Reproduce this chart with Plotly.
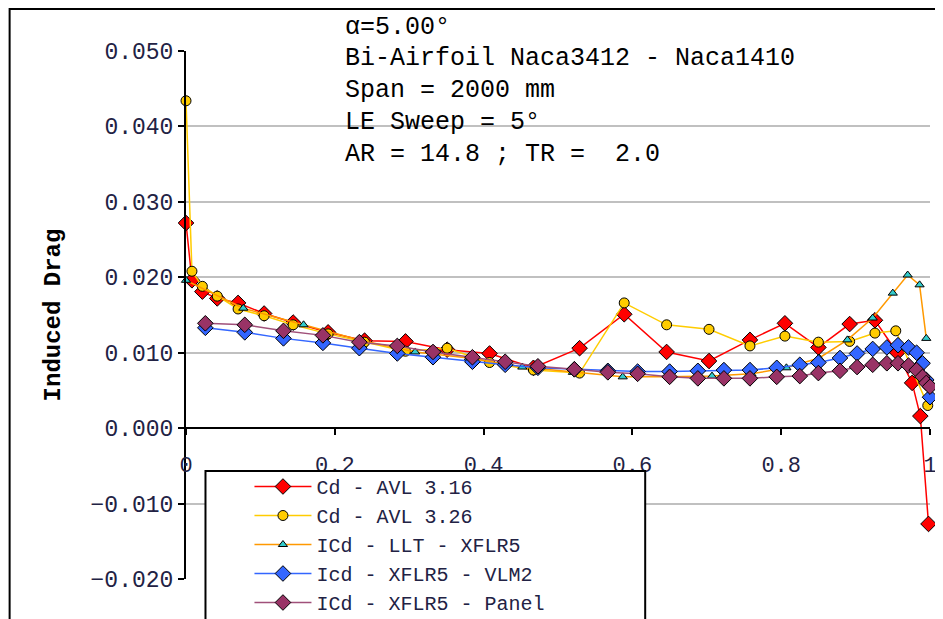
import plotly.graph_objects as go

# spanwise position (2y/b) and induced drag per solver
x_avl316 = [0, 0.008, 0.022, 0.042, 0.07, 0.105, 0.144, 0.191, 0.240, 0.295, 0.351, 0.408, 0.467,
            0.529, 0.589, 0.646, 0.703, 0.758, 0.805, 0.850, 0.892, 0.926, 0.956, 0.976, 0.987, 0.998]
cd_avl316 = [0.0272, 0.0196, 0.0181, 0.0172, 0.0166, 0.0152, 0.0140, 0.0127, 0.0116, 0.0115, 0.0104,
             0.0099, 0.0080, 0.0106, 0.0151, 0.0101, 0.0089, 0.0117, 0.0139, 0.0107, 0.0138, 0.0143,
             0.0100, 0.0060, 0.0016, -0.0127]

x_avl326 = [0, 0.008, 0.022, 0.042, 0.07, 0.105, 0.144, 0.191, 0.240, 0.295, 0.351, 0.408,
            0.467, 0.529, 0.589, 0.646, 0.703, 0.758, 0.805, 0.850, 0.892, 0.926, 0.954, 0.997]
cd_avl326 = [0.0434, 0.0208, 0.0188, 0.0175, 0.0158, 0.0149, 0.0137, 0.0125, 0.0114, 0.0102, 0.0106,
             0.0087, 0.0077, 0.0073, 0.0166, 0.0137, 0.0131, 0.0109, 0.0122, 0.0114, 0.0115, 0.0126,
             0.0129, 0.0030]

x_llt = [0, 0.077, 0.158, 0.233, 0.308, 0.38, 0.452, 0.52, 0.587, 0.65, 0.707, 0.76, 0.807,
         0.851, 0.889, 0.923, 0.950, 0.970, 0.986, 0.995]
cd_llt = [0.0196, 0.0159, 0.0137, 0.0117, 0.0101, 0.0093, 0.0081, 0.0074, 0.0068, 0.0068, 0.0069,
          0.0072, 0.0080, 0.0093, 0.0117, 0.0146, 0.0179, 0.0203, 0.0190, 0.0119]

x_vlm = [0.026, 0.079, 0.131, 0.184, 0.233, 0.284, 0.332, 0.385, 0.429, 0.473, 0.522, 0.567, 0.607,
         0.650, 0.688, 0.723, 0.758, 0.794, 0.825, 0.850, 0.879, 0.902, 0.923, 0.942, 0.957, 0.971,
         0.982, 0.990, 0.995, 1.0]
cd_vlm2 = [0.0133, 0.0127, 0.0119, 0.0113, 0.0106, 0.0099, 0.0094, 0.0088, 0.0084, 0.0080, 0.0078,
           0.0076, 0.0075, 0.0075, 0.0076, 0.0077, 0.0077, 0.0080, 0.0084, 0.0087, 0.0093, 0.0099,
           0.0105, 0.0107, 0.0110, 0.0107, 0.0100, 0.0086, 0.0064, 0.0041]
cd_panel = [0.0139, 0.0137, 0.0129, 0.0123, 0.0114, 0.0109, 0.0101, 0.0094, 0.0088, 0.0082, 0.0078,
            0.0074, 0.0072, 0.0068, 0.0066, 0.0066, 0.0066, 0.0068, 0.0069, 0.0073, 0.0076, 0.0081,
            0.0084, 0.0086, 0.0086, 0.0083, 0.0077, 0.0068, 0.0060, 0.0055]

x_ticks = [0, 0.2, 0.4, 0.6, 0.8, 1]
x_ticktext = ['0', '0.2', '0.4', '0.6', '0.8', '1']

info_lines = ['\u03b1=5.00\u00b0',
              'Bi-Airfoil Naca3412 - Naca1410',
              'Span = 2000 mm',
              'LE Sweep = 5\u00b0',
              'AR = 14.8 ; TR =  2.0']

FONT = 'Liberation Mono, Courier New, monospace'

# the page body adds an 8px margin, so figure px = screen px - 8
OFF = 8
# plot area in screen pixels (0..1 across, -0.02..0.05 up)
PX_L, PX_R, PX_T, PX_B = 185.5, 930, 51, 579
W_PX, H_PX = PX_R - PX_L, PX_B - PX_T


def px_x(px):
    return (px - PX_L) / W_PX


def px_y(py):
    return (PX_B - py) / H_PX


def series(x, y, name, line_col, fill_col, symbol, size):
    return go.Scatter(x=x, y=y, name=name, mode='lines+markers', cliponaxis=False,
                      line=dict(color=line_col, width=1.5),
                      marker=dict(symbol=symbol, size=size, color=fill_col,
                                  line=dict(color='black', width=1)))

traces = [
    series(x_avl316, cd_avl316, 'Cd - AVL 3.16', '#ff0000', '#ff0000', 'diamond', 12),
    series(x_avl326, cd_avl326, 'Cd - AVL 3.26', '#ffcc00', '#ffcc00', 'circle', 10),
    series(x_llt, cd_llt, 'ICd - LLT - XFLR5', '#ff9900', '#33cccc', 'triangle-up', 8),
    series(x_vlm, cd_vlm2, 'Icd - XFLR5 - VLM2', '#3366ff', '#3366ff', 'diamond', 12),
    series(x_vlm, cd_panel, 'ICd - XFLR5 - Panel', '#a0507a', '#993366', 'diamond', 12),
]

fig = go.Figure(data=traces)

y_lo, y_hi = -0.02, 0.05
layout = go.Layout(
    width=943, height=619,
    margin=dict(l=PX_L - OFF, r=943 - PX_R + OFF, t=PX_T - OFF, b=619 - PX_B + OFF,
                autoexpand=False),
    paper_bgcolor='white', plot_bgcolor='white',
    font=dict(family=FONT, color='#222244'),
    showlegend=True,
    xaxis=dict(range=[0, 1], tickvals=x_ticks, ticktext=x_ticktext, showgrid=False,
               zeroline=False, anchor='free', position=(0 - y_lo) / (y_hi - y_lo),
               showline=True, linecolor='black', linewidth=2,
               ticks='outside', ticklen=6, tickcolor='black', tickwidth=2,
               ticklabelstandoff=10, tickfont=dict(size=22), automargin=False),
    yaxis=dict(range=[y_lo, y_hi], dtick=0.01, tickformat='.3f', showgrid=True,
               gridcolor='#c0c0c0', gridwidth=1.5, zeroline=False,
               showline=True, linecolor='black', linewidth=2,
               ticks='outside', ticklen=6, tickcolor='black', tickwidth=2,
               tickfont=dict(size=23), automargin=False,
               title=dict(text='<b>Induced Drag</b>', standoff=23,
                          font=dict(size=24, color='black'))),
    legend=dict(x=px_x(249), y=px_y(467), xanchor='left', yanchor='top',
                bgcolor='rgba(0,0,0,0)', borderwidth=0,
                itemwidth=57, font=dict(size=20, color='#222244'), tracegroupgap=0),
)
fig.update_layout(layout)

for i, line in enumerate(info_lines):
    fig.add_annotation(text=line, xref='paper', yref='paper',
                       x=px_x(343), y=px_y(27 + i * 31.8),
                       xanchor='left', yanchor='middle', showarrow=False,
                       font=dict(family=FONT, size=25, color='black'))

# legend frame (covers the grid like the original)
fig.add_shape(type='rect', xref='paper', yref='paper',
              x0=px_x(205), x1=px_x(645), y0=px_y(650), y1=px_y(471),
              line=dict(color='black', width=2), fillcolor='white', layer='above')

# outer chart frame
fig.add_shape(type='rect', xref='paper', yref='paper',
              x0=px_x(9), x1=px_x(940), y0=px_y(640), y1=px_y(9),
              line=dict(color='black', width=2), layer='below')

fig.write_html('out.html')
